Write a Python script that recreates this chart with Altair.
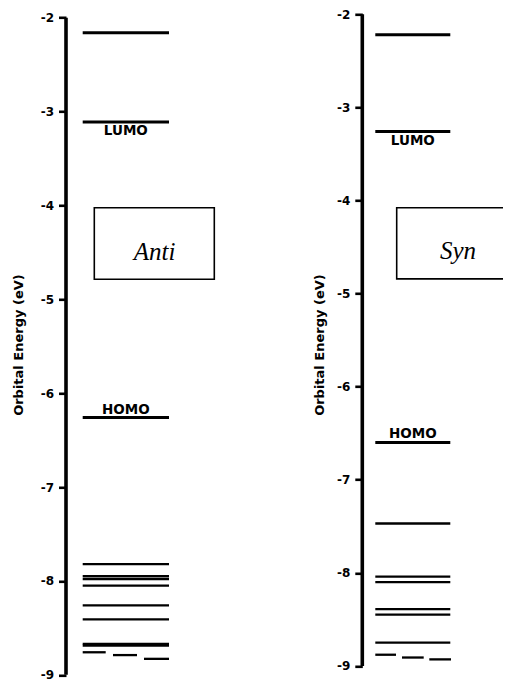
import altair as alt
import pandas as pd

# ---------------- data ----------------
tick_values = [-9, -8, -7, -6, -5, -4, -3, -2]
y_title = "Orbital Energy (eV)"
panel_names = ["Anti", "Syn"]
frontier_names = ["LUMO", "HOMO"]

# orbital energies (eV), full-width levels
anti_levels = [-2.16, -3.11, -6.26, -7.82, -7.95, -7.98, -8.05, -8.26, -8.41, -8.67, -8.69]
# near-degenerate levels drawn as three short segments
anti_split = [-8.76, -8.79, -8.83]

syn_levels = [-2.22, -3.26, -6.60, -7.47, -8.04, -8.10, -8.39, -8.45, -8.75]
syn_split = [-8.88, -8.91, -8.93]

# index of LUMO and HOMO in the level lists
lumo_idx, homo_idx = 1, 2

# ---------------- layout (not data) ----------------
LAYOUT = {
    "Anti": dict(width=150, ydom=[-9, -1.9638], span=(16.7, 103),
                 dashes=[(16.7, 39.7), (47, 71), (78, 103)],
                 box=(28.3, 148.3, -4.024, -4.787), text=(88.5, -4.581),
                 title_pad=15, lumo_dy=9, homo_dy=-8),
    "Syn": dict(width=141, ydom=[-9.0956, -2], span=(13, 88),
                dashes=[(13, 33.7), (39.7, 61.4), (67, 88.7)],
                box=(34.4, 170, -4.078, -4.842), text=(95.7, -4.629),
                title_pad=10, lumo_dy=9, homo_dy=-8),
}
PLOT_H = 660.5
FONT = "DejaVu Sans"
SVG_W, SVG_H = 495, 671


def panel(name, levels, split):
    L = LAYOUT[name]
    rows = [{"e": e, "x0": L["span"][0], "x1": L["span"][1],
             "w": 3.0 if e > -7 else 2.3} for e in levels]
    for e, (a, b) in zip(split, L["dashes"]):
        rows.append({"e": e, "x0": a, "x1": b, "w": 2.3})
    lv = pd.DataFrame(rows)

    xs = alt.Scale(domain=[0, L["width"]], nice=False, zero=False)
    ys = alt.Scale(domain=L["ydom"], nice=False, zero=False)
    yaxis = alt.Axis(values=tick_values, title=y_title, domain=False,
                     tickSize=7.5, tickWidth=2.6, tickColor="black",
                     labelExpr="'-' + abs(datum.value)",
                     labelFont=FONT, labelFontSize=12, labelFontWeight="bold",
                     labelColor="black", labelPadding=5,
                     titleFont=FONT, titleFontSize=13, titleFontWeight="bold",
                     titleColor="black", titlePadding=L["title_pad"], grid=False)

    def Y(f="e"):
        return alt.Y(f"{f}:Q", scale=ys, axis=yaxis)

    axis_df = pd.DataFrame({"x": [0], "e": [max(tick_values)], "e2": [min(tick_values)]})
    axis_line = alt.Chart(axis_df).mark_rule(color="black", strokeWidth=3.6).encode(
        x=alt.X("x:Q", scale=xs, axis=None), y=Y(), y2="e2:Q")

    lines = alt.Chart(lv).mark_rule(color="black").encode(
        x=alt.X("x0:Q", scale=xs, axis=None), x2="x1:Q", y=Y(),
        strokeWidth=alt.StrokeWidth("w:Q", scale=None, legend=None))

    cx = (L["span"][0] + L["span"][1]) / 2
    lumo = alt.Chart(pd.DataFrame({"x": [cx], "e": [levels[lumo_idx]], "t": [frontier_names[0]]})).mark_text(
        font=FONT, fontSize=13.5, fontWeight="bold", color="black", baseline="middle",
        dy=L["lumo_dy"]).encode(x=alt.X("x:Q", scale=xs, axis=None), y=Y(), text="t:N")
    homo = alt.Chart(pd.DataFrame({"x": [cx], "e": [levels[homo_idx]], "t": [frontier_names[1]]})).mark_text(
        font=FONT, fontSize=13.5, fontWeight="bold", color="black", baseline="middle",
        dy=L["homo_dy"]).encode(x=alt.X("x:Q", scale=xs, axis=None), y=Y(), text="t:N")

    bx = L["box"]
    box = alt.Chart(pd.DataFrame({"x": [bx[0]], "x2": [bx[1]], "e": [bx[2]], "e2": [bx[3]]})).mark_rect(
        fill="white", stroke="black", strokeWidth=1.6, clip=True).encode(
        x=alt.X("x:Q", scale=xs, axis=None), x2="x2:Q", y=Y(), y2="e2:Q")
    label = alt.Chart(pd.DataFrame({"x": [L["text"][0]], "e": [L["text"][1]], "t": [name]})).mark_text(
        font="Liberation Serif", fontStyle="italic", fontSize=25, color="black",
        baseline="alphabetic", align="center").encode(
        x=alt.X("x:Q", scale=xs, axis=None), y=Y(), text="t:N")

    return alt.layer(axis_line, lines, lumo, homo, box, label).properties(
        width=L["width"], height=PLOT_H)


left = panel(panel_names[0], anti_levels, anti_split)
right = panel(panel_names[1], syn_levels, syn_split)

PAD_L, PAD_T = 58, 6.3
chart = alt.hconcat(left, right, spacing=146.3, bounds="flush").properties(
    autosize=alt.AutoSizeParams(type="none"),
    padding={"left": PAD_L, "top": PAD_T, "right": SVG_W - PAD_L, "bottom": SVG_H - PAD_T},
).configure_view(stroke=None)

chart.save("out.html", embed_options={"renderer": "svg", "actions": False})
